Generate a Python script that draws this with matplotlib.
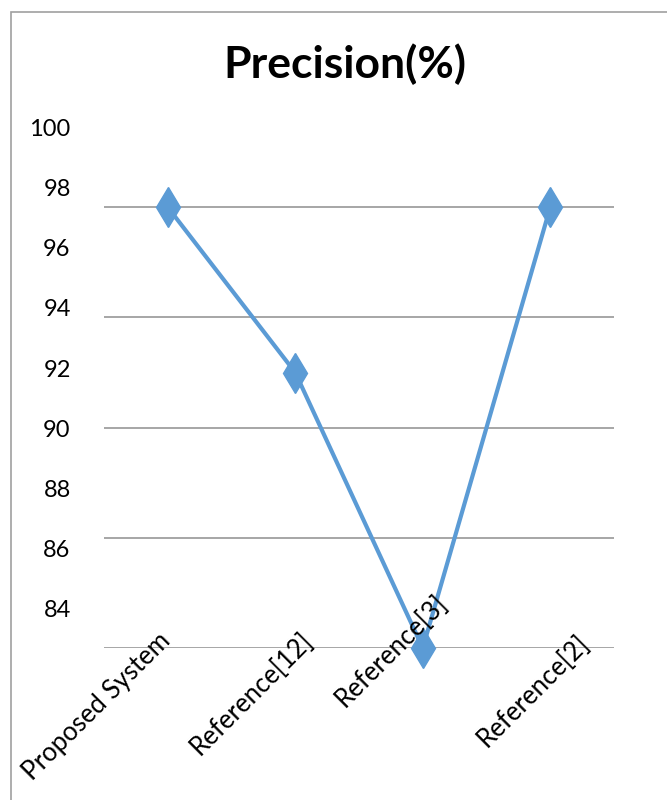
import matplotlib.pyplot as plt
from matplotlib.patches import Rectangle

plt.rcParams['font.family'] = ['Lato', 'DejaVu Sans']

systems = ['Proposed System', 'Reference[12]', 'Reference[3]', 'Reference[2]']
precision = [98, 92, 82, 98]
grid_values = [82, 86, 90, 94, 98]
tick_values = [84, 86, 88, 90, 92, 94, 96, 98, 100]

# pixel offsets for the slanted category labels
label_shift = [(-10, 20), (5, 20), (12, 58), (26, 18)]

blue = '#5B9BD5'
grey = '#A6A6A6'

fig = plt.figure(figsize=(6.67, 8), dpi=100)
rect = [104 / 667, 1 - 648 / 800, 510 / 667, (648 - 97) / 800]

# value labels sit on their own scale
ax2 = fig.add_axes(rect)
ax2.set_ylim(82.705, 101.0)
ax2.set_yticks(tick_values)
ax2.tick_params(axis='y', length=0, pad=24, labelsize=17)
ax2.xaxis.set_visible(False)
ax2.patch.set_visible(False)
for s in ax2.spines.values():
    s.set_visible(False)

ax = fig.add_axes(rect)
ax.patch.set_visible(False)
ax.set_xlim(-0.5, 3.5)
ax.set_ylim(82, 102)
ax.set_yticks(grid_values)
ax.set_yticklabels([])
ax.set_xticks([])
ax.tick_params(axis='y', length=0)
ax.yaxis.grid(True, color=grey, lw=1.4)
ax.set_axisbelow(True)
for s in ax.spines.values():
    s.set_visible(False)

x = list(range(len(systems)))
ax.plot(x, precision, color=blue, lw=3, marker='d', ms=20,
        mec=blue, mfc=blue, clip_on=False, zorder=3)

for i, name in enumerate(systems):
    dx, dy = label_shift[i]
    ax.annotate(name, xy=(i, 82), xytext=(dx, dy), textcoords='offset pixels',
                rotation=45, ha='right', va='top', rotation_mode='anchor',
                fontsize=18.5, annotation_clip=False)

fig.text(345 / 667, 1 - 78 / 800, 'Precision(%)', ha='center', va='baseline',
         fontsize=32, fontweight='bold')

# chart frame, running off the right and bottom edges
fig.patches.append(Rectangle((11 / 667, -0.5), 2, 0.985 + 0.5,
                             transform=fig.transFigure, fill=False,
                             edgecolor='#A0A0A0', lw=1.2))

fig.savefig('out.png', dpi=100)
